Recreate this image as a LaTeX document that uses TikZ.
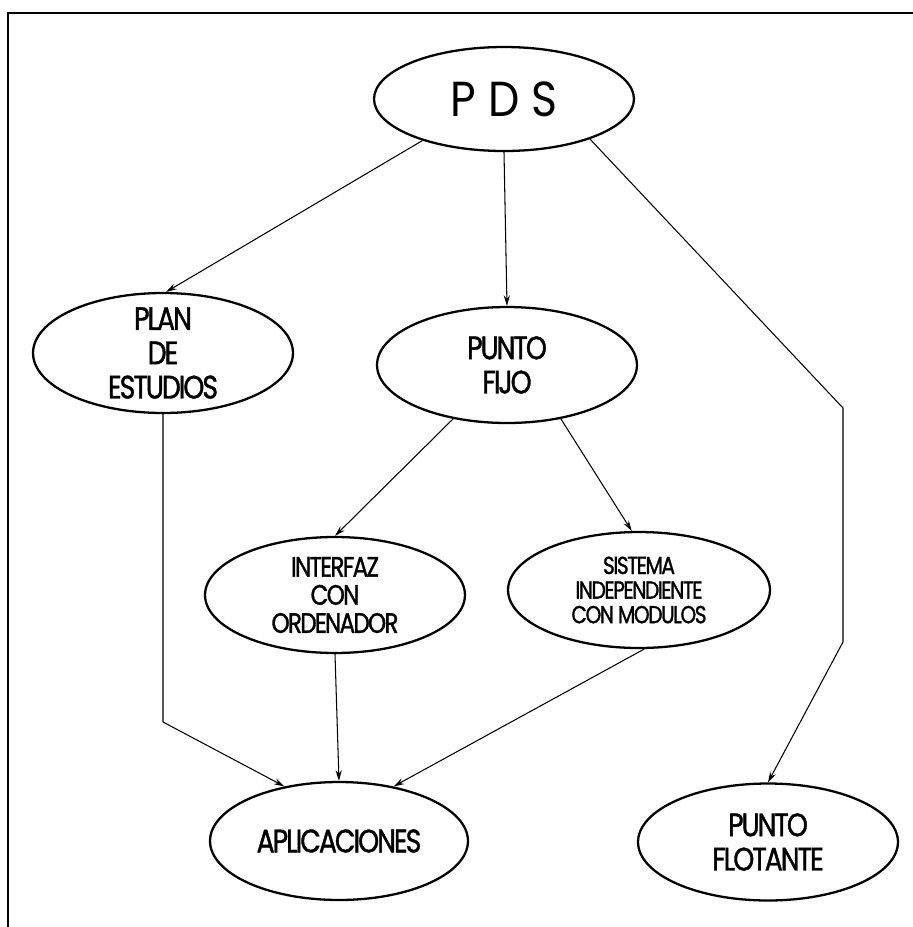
\documentclass[tikz,border=0pt]{standalone}
\usepackage{fontspec}
\setmainfont{Poppins}[FakeStretch=0.82,LetterSpace=-6,FakeBold=1.2]
\newfontfamily\pdsfont{Poppins}[FakeStretch=0.9]
\usetikzlibrary{shapes.geometric,arrows.meta}

\begin{document}
\begin{tikzpicture}[x=0.02cm, y=-0.02cm, >={Stealth[length=6pt,width=3.5pt]},
  elipse/.style={ellipse, draw, line width=1.3pt, inner xsep=0pt, inner ysep=-8pt,
    minimum width=5.2cm, minimum height=2.32cm, align=center,
    font=\fontsize{18.5}{19.5}\selectfont},
  flecha/.style={->, line width=0.6pt}]

  \useasboundingbox (0,0) rectangle (913,927);

  % marco
  \draw[line width=1pt] (913,13) -- (8,13) -- (8,927);

  % nodos
  \node[elipse, minimum height=2.08cm, font=\pdsfont\fontsize{28}{30}\selectfont] (pds) at (504,99) {P D S};
  \node[elipse, minimum height=2.4cm] (plan) at (163,353) {PLAN\\DE\\ESTUDIOS};
  \node[elipse] (fijo) at (507,365) {PUNTO\\FIJO};
  \node[elipse, font=\fontsize{16}{16}\selectfont] (interfaz) at (335,595) {INTERFAZ\\CON\\ORDENADOR};
  \node[elipse, minimum width=5.24cm, font=\fontsize{14}{14}\selectfont] (sistema) at (639,590) {SISTEMA\\INDEPENDIENTE\\CON MODULOS};
  \node[elipse, minimum width=5.16cm, minimum height=2.36cm] (aplic) at (339,841) {APLICACIONES};
  \node[elipse, minimum height=2.34cm] (flotante) at (768,842) {PUNTO\\FLOTANTE};

  % puntos de quiebre
  \coordinate (quiebreA) at (163,722);
  \coordinate (quiebreB) at (843,408);
  \coordinate (quiebreC) at (843,642);

  % conexiones
  \draw[flecha] (pds.207) -- (plan.87);
  \draw[flecha] (pds.south) -- (fijo.north);
  \draw[flecha] (pds.335) -- (quiebreB) -- (quiebreC) -- (flotante.north);
  \draw[flecha] (fijo.225) -- (interfaz.north);
  \draw[flecha] (fijo.315) -- (sistema.97);
  \draw[flecha] (plan.south) -- (quiebreA) -- (aplic.135);
  \draw[flecha] (interfaz.south) -- (aplic.north);
  \draw[flecha] (sistema.275) -- (aplic.45);

\end{tikzpicture}
\end{document}
